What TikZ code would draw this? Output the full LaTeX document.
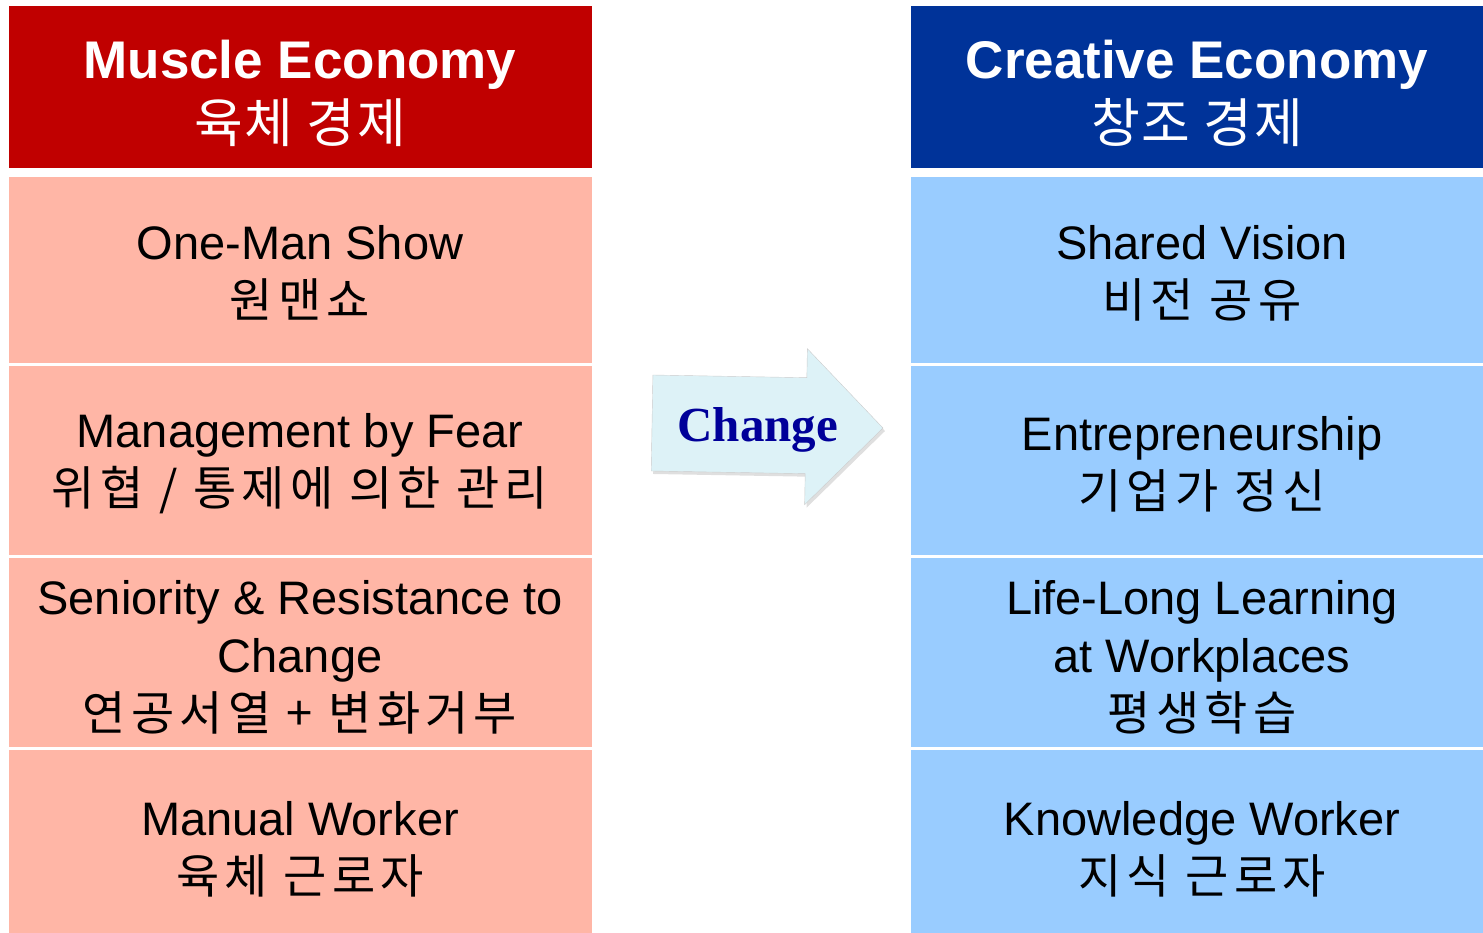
\documentclass[tikz,border=0pt]{standalone}
\usepackage{fontspec}
\setmainfont{Liberation Sans}
\newfontfamily\kor[LetterSpace=11]{Noto Sans CJK KR}
\newfontfamily\korhead[LetterSpace=3]{Noto Sans CJK KR}
\newfontfamily\timesb{Liberation Serif}
\usetikzlibrary{positioning}
\usetikzlibrary{shadows}

\definecolor{muscle}{HTML}{C00000}
\definecolor{musclelight}{HTML}{FFB6A6}
\definecolor{creative}{HTML}{003399}
\definecolor{creativelight}{HTML}{99CCFF}
\definecolor{arrowfill}{HTML}{DDF2F7}
\definecolor{changeblue}{HTML}{000099}

\begin{document}
\begin{tikzpicture}
	[x=1pt,y=-1pt,every node/.style={align=center,inner sep=0pt},
	 head/.style={font=\fontsize{53}{64}\selectfont\bfseries,text=white},
	 body/.style={font=\fontsize{47}{58}\selectfont}]
	\useasboundingbox (0,0) rectangle (1483,933);
	\fill[muscle] (9,6) rectangle (592,168);
	\fill[creative] (911,6) rectangle (1483,168);
	\foreach \top/\bot in {177/363, 366/555, 558/747, 750/933}
	{
	\fill[musclelight] (9,\top) rectangle (592,\bot);
	\fill[creativelight] (911,\top) rectangle (1483,\bot);
	}
	
	\node[head] (m0) at (300,93) {Muscle Economy\\{\korhead\mdseries 육체 경제}};
	\node[body] (m1) at (300,273) {One-Man Show\\{\kor 원맨쇼}};
	\node[body] (m2) at (300,464) {Management by Fear\\{\kor 위협 / 통제에 의한 관리}};
	\node[body] (m3) at (300,657) {Seniority \& Resistance to\\Change\\{\kor 연공서열 + 변화거부}};
	\node[body] (m4) at (300,849) {Manual Worker\\{\kor 육체 근로자}};
	
	\node[head] (c0) at (1197,93) {Creative Economy\\{\korhead\mdseries 창조 경제}};
	\node[body] (c1) at (1202,273) {Shared Vision\\{\kor 비전 공유}};
	\node[body] (c2) at (1202,464) {Entrepreneurship\\{\kor 기업가 정신}};
	\node[body] (c3) at (1202,657) {Life-Long Learning\\at Workplaces\\{\kor 평생학습}};
	\node[body] (c4) at (1202,849) {Knowledge Worker\\{\kor 지식 근로자}};
	
	\begin{scope}[rotate around={-1:(767,426)}]
	\path[draw=gray!40,fill=arrowfill,drop shadow={opacity=0.25,shadow xshift=2pt,shadow yshift=-3pt}]
	(652,377) -- (806,377) -- (806,348) -- (883,426) -- (806,504) -- (806,473) -- (652,473) -- cycle;
	\node[font=\fontsize{49}{60}\selectfont\timesb\bfseries,text=changeblue] (chg) at (758,430) {Change};
	\end{scope}
\end{tikzpicture}
\end{document}
